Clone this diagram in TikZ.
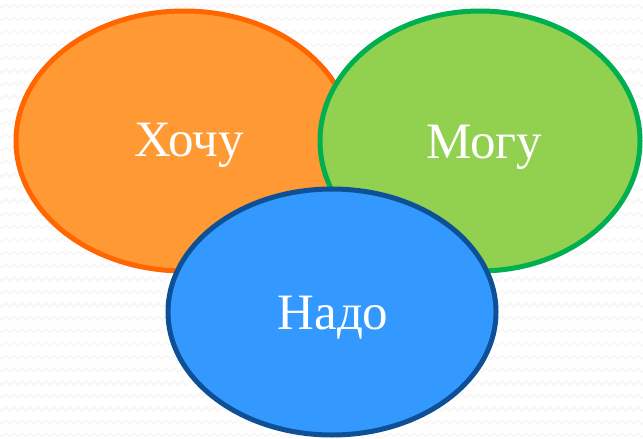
\documentclass[tikz,border=0pt]{standalone}
\usepackage{fontspec}
\setmainfont{Liberation Serif}
\usetikzlibrary{shapes.geometric,decorations.pathmorphing}

\definecolor{wantfill}{HTML}{FF9933}
\definecolor{wantline}{HTML}{FF6600}
\definecolor{canfill}{HTML}{92D050}
\definecolor{canline}{HTML}{00B050}
\definecolor{mustfill}{HTML}{3399FF}
\definecolor{mustline}{HTML}{0D5096}

\tikzset{
  blob/.style={ellipse, line width=5pt, inner sep=0pt},
  word/.style={anchor=base, text=white, font=\fontsize{51}{55}\selectfont}
}

\begin{document}
\begin{tikzpicture}[x=1pt, y=-1pt]
  \useasboundingbox (0,0) rectangle (643,439);
  \fill[white] (0,0) rectangle (643,439);
  % faint zigzag background
  \foreach \y in {6,19,...,439}
    \draw[black!4, line width=1.2pt, decorate,
      decoration={zigzag, segment length=8pt, amplitude=2pt}] (-4,\y) -- (647,\y);

  \node[blob, draw=wantline, fill=wantfill, minimum width=336pt, minimum height=260pt] (want) at (184,141) {};
  \node[blob, draw=canline, fill=canfill, minimum width=320pt, minimum height=260pt] (can) at (480,141) {};
  \node[blob, draw=mustline, fill=mustfill, minimum width=328pt, minimum height=246pt] (must) at (332,312) {};

  \node[word] (wantlbl) at (189,156) {Хочу};
  \node[word] (canlbl) at (484,158) {Могу};
  \node[word] (mustlbl) at (333,329) {Надо};
\end{tikzpicture}
\end{document}
